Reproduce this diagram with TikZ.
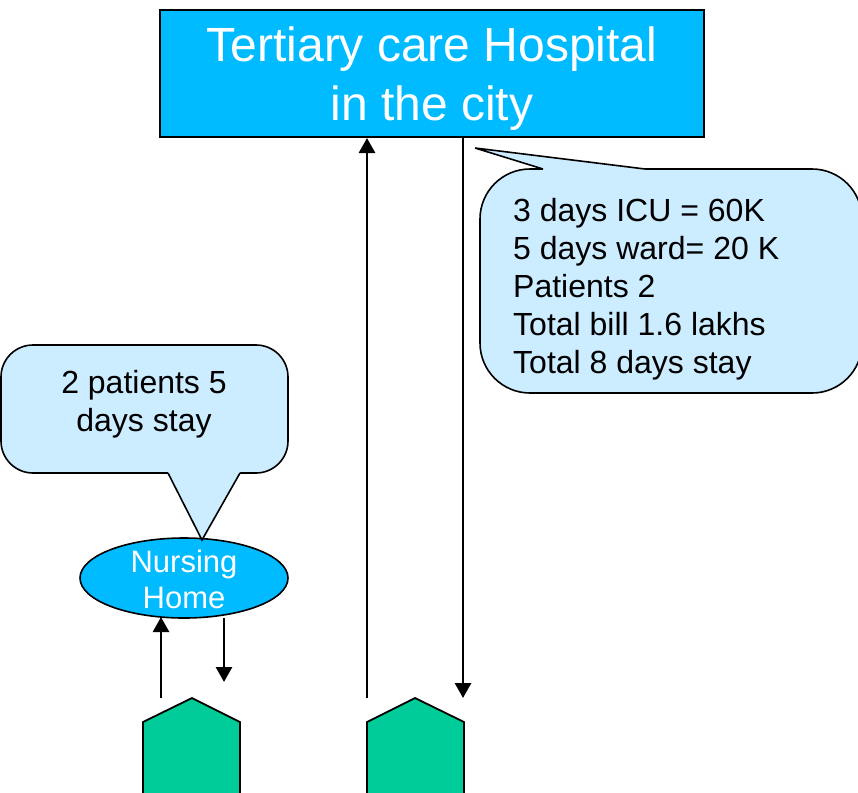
\documentclass[tikz,border=0pt]{standalone}
\usepackage{fontspec}
\setmainfont{Liberation Sans}
\usetikzlibrary{arrows.meta,shapes.geometric}
\definecolor{hospblue}{RGB}{0,187,255}
\definecolor{calloutblue}{RGB}{204,236,255}
\definecolor{clinicgreen}{RGB}{0,204,153}
\tikzset{
  conn/.style={line width=2.8pt,-{Triangle[length=15pt,width=16pt]}},
  calloutline/.style={draw,line width=1.6pt,line join=miter},
  clinicshape/.style={draw,line width=1.8pt,fill=clinicgreen,line join=miter},
}
\begin{document}
\begin{tikzpicture}[x=1pt,y=-1pt]
\useasboundingbox (0,0) rectangle (858,792);
\clip (0,0) rectangle (858,792);
% hospital
\node[draw,line width=2pt,fill=hospblue,minimum width=544pt,minimum height=127pt,inner sep=0pt] (hosp) at (432,73.5) {};
\node[text=white,align=center,inner sep=0pt,font=\fontsize{48}{59}\selectfont] (hosptext) at (432,79) {Tertiary care Hospital\\in the city};
% nursing home
\node[ellipse,draw,line width=1.6pt,fill=hospblue,minimum width=208pt,minimum height=80pt,inner sep=0pt] (nh) at (184,578) {};
\node[text=white,align=center,inner sep=0pt,font=\fontsize{31}{36}\selectfont] (nhtext) at (184,579) {Nursing\\Home};
% callout 1
\filldraw[calloutline,fill=calloutblue,rounded corners=32pt] (1,345) rectangle (288,473);
\fill[calloutblue] (168,473) -- (202,540) -- (240,473) -- (240,470) -- (168,470) -- cycle;
\draw[calloutline] (168,473) -- (202,540) -- (240,473);
\node[align=center,font=\fontsize{32}{38}\selectfont,inner sep=0pt] (c1text) at (144,404) {2 patients 5\\days stay};
% callout 2
\filldraw[calloutline,fill=calloutblue,rounded corners=50pt] (480,169) rectangle (862,393);
\fill[calloutblue] (543,169) -- (475,148) -- (645,169) -- (645,172) -- (543,172) -- cycle;
\draw[calloutline] (543,169) -- (475,148) -- (645,169);
\node[align=left,anchor=west,font=\fontsize{32}{38}\selectfont,inner sep=0pt] (c2text) at (513,289) {3 days ICU = 60K\\5 days ward= 20 K\\Patients 2\\Total bill 1.6 lakhs\\Total 8 days stay};
% clinics
\coordinate (g1apex) at (192,698);
\coordinate (g2apex) at (415,698);
\draw[clinicshape] (143,800) -- (143,722) -- (g1apex) -- (240,722) -- (240,800);
\draw[clinicshape] (367,800) -- (367,722) -- (g2apex) -- (464,722) -- (464,800);
% connectors
\coordinate (a1) at (367,698);
\coordinate (a2) at (463,698);
\coordinate (b1) at (161,698);
\coordinate (b1e) at (161,617);
\coordinate (b2s) at (224,618);
\coordinate (b2) at (224,682);
\draw[conn] (a1) -- (a1 |- hosp.south);
\draw[conn] (a2 |- hosp.south) -- (a2);
\draw[conn] (b1) -- (b1e);
\draw[conn] (b2s) -- (b2);
\end{tikzpicture}
\end{document}
